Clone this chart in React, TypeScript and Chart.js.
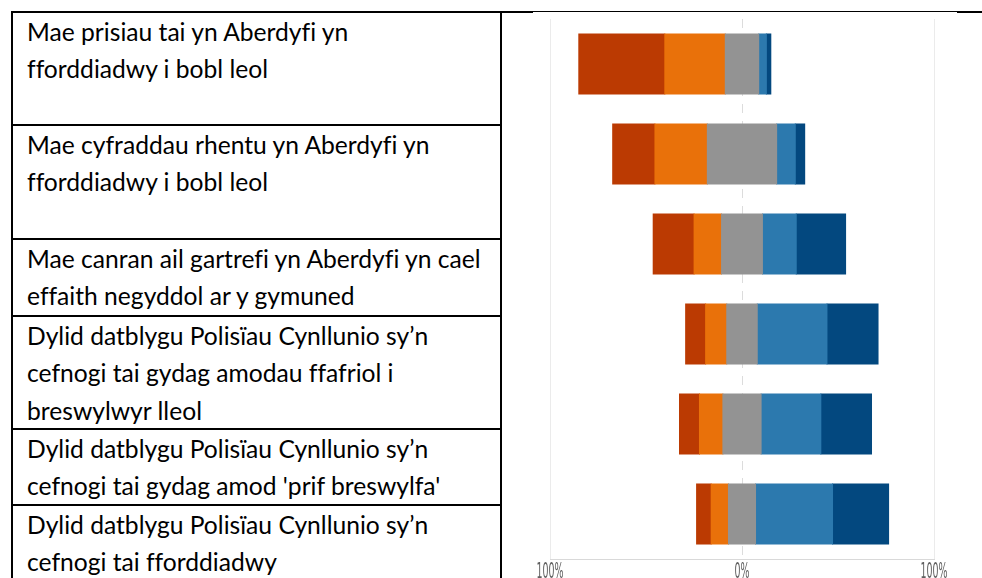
import React, { useEffect, useMemo, useRef } from "react";
import { Chart, registerables } from "chart.js";

Chart.register(...registerables);

// ---- Data ----
const statementLines: string[][] = [
  ["Mae prisiau tai yn Aberdyfi yn", "fforddiadwy i bobl leol"],
  ["Mae cyfraddau rhentu yn Aberdyfi yn", "fforddiadwy i bobl leol"],
  ["Mae canran ail gartrefi yn Aberdyfi yn cael", "effaith negyddol ar y gymuned"],
  [
    "Dylid datblygu Polisïau Cynllunio sy\u2019n",
    "cefnogi tai gydag amodau ffafriol i",
    "breswylwyr lleol",
  ],
  ["Dylid datblygu Polisïau Cynllunio sy\u2019n", "cefnogi tai gydag amod 'prif breswylfa'"],
  ["Dylid datblygu Polisïau Cynllunio sy\u2019n", "cefnogi tai fforddiadwy"],
];

const stronglyDisagree = [44.8, 22.0, 21.3, 10.4, 10.4, 7.6];
const disagree = [31.5, 27.3, 14.3, 11.0, 12.2, 9.0];
const neutral = [17.4, 36.1, 21.3, 15.9, 19.9, 14.1];
const agree = [4.0, 9.7, 17.6, 36.3, 31.1, 40.1];
const stronglyAgree = [2.3, 4.9, 25.7, 26.6, 26.4, 29.2];

const xTickValues = [-100, 0, 100];
const xTickLabels = ["100%", "0%", "100%"];

// ---- Styles ----
const C_SD = "#BB3A02";
const C_D = "#E9710A";
const C_N = "#939393";
const C_A = "#2C79AE";
const C_SA = "#03487F";

const TEXT_FONT = "Lato, 'Open Sans', sans-serif";
const TICK_FONT = "'Liberation Sans Narrow', 'DejaVu Sans Condensed', 'Liberation Sans', sans-serif";
const ROW_BORDER_Y = [11, 124, 238, 315, 428, 504];
const LINE_PITCH = 37.5;
const FIRST_BASELINE = 30;

// Draws the x tick labels in a tall, condensed style (stretched text)
const tallTicksPlugin = {
  id: "tallTicks",
  afterDraw(chart: any) {
    const scale = chart.scales.x;
    const ctx = chart.ctx;
    ctx.save();
    ctx.fillStyle = "#606060";
    ctx.font = `13px ${TICK_FONT}`;
    ctx.textAlign = "center";
    ctx.textBaseline = "alphabetic";
    const sx = 27 / ctx.measureText(xTickLabels[0]).width;
    scale.ticks.forEach((t: any, i: number) => {
      const x = scale.getPixelForValue(t.value);
      const baseline = chart.chartArea.bottom + 18.5;
      ctx.save();
      ctx.translate(x, baseline);
      ctx.scale(sx, 1.6);
      ctx.fillText(xTickLabels[i], 0, 0);
      ctx.restore();
    });
    ctx.restore();
  },
};

export default function App() {
  const canvasRef = useRef<HTMLCanvasElement | null>(null);

  const fontSize = useMemo(() => {
    const ctx = document.createElement("canvas").getContext("2d");
    if (!ctx) return 22;
    ctx.font = "100px Lato";
    const w = ctx.measureText(statementLines[2][0]).width;
    return (100 * 455) / w;
  }, []);

  useEffect(() => {
    const canvas = canvasRef.current;
    if (!canvas) return;
    const chart = new Chart(canvas, {
      type: "bar",
      data: {
        labels: statementLines,
        datasets: [
          { label: "Neutral (left)", data: neutral.map((v) => -v / 2), backgroundColor: C_N },
          { label: "Disagree", data: disagree.map((v) => -v), backgroundColor: C_D },
          { label: "Strongly disagree", data: stronglyDisagree.map((v) => -v), backgroundColor: C_SD },
          { label: "Neutral (right)", data: neutral.map((v) => v / 2), backgroundColor: C_N },
          { label: "Agree", data: agree, backgroundColor: C_A },
          { label: "Strongly agree", data: stronglyAgree, backgroundColor: C_SA },
        ],
      },
      options: {
        indexAxis: "y",
        responsive: false,
        animation: false,
        devicePixelRatio: 1,
        layout: { padding: { left: 17, right: 23, top: 6, bottom: 0 } },
        plugins: { legend: { display: false }, tooltip: { enabled: false } },
        datasets: {
          bar: { barPercentage: 0.667, categoryPercentage: 1, borderWidth: 0, inflateAmount: 0.5 },
        },
        scales: {
          x: {
            stacked: true,
            min: -100,
            max: 100,
            afterBuildTicks: (scale: any) => {
              scale.ticks = xTickValues.map((v) => ({ value: v }));
            },
            afterFit: (scale: any) => {
              scale.paddingLeft = 0;
              scale.paddingRight = 0;
              scale.height = 20;
            },
            grid: {
              drawTicks: false,
              lineWidth: 1,
              color: (ctx: any) => (ctx.tick && ctx.tick.value === 0 ? "#dcdcdc" : "#ebebeb"),
            },
            border: {
              display: true,
              color: "#d9d9d9",
              dash: (ctx: any) => (ctx.tick && ctx.tick.value === 0 ? [9, 8] : []),
            },
            ticks: {
              padding: 3,
              color: "rgba(0,0,0,0)",
              font: { family: TICK_FONT, size: 14 },
              callback: (_v: any, i: number) => xTickLabels[i],
            },
          },
          y: { stacked: true, display: false },
        },
      },
      plugins: [tallTicksPlugin],
    });
    return () => chart.destroy();
  }, []);

  const lineBox = (top: number, left: number, width: number, height: number, key: string) => (
    <div key={key} style={{ position: "absolute", left, top, width, height, background: "#000" }} />
  );

  return (
    <div
      style={{
        position: "fixed",
        left: 0,
        top: 0,
        width: 982,
        height: 578,
        overflow: "hidden",
        background: "#fff",
        fontFamily: TEXT_FONT,
      }}
    >
      {/* table borders */}
      {lineBox(11, 11, 522, 2, "top-l")}
      {lineBox(11, 533, 424, 1, "top-m")}
      {lineBox(11, 957, 40, 2, "top-r")}
      {lineBox(11, 11, 2, 600, "left")}
      {lineBox(11, 500, 2, 600, "mid")}
      {ROW_BORDER_Y.slice(1).map((y, i) => lineBox(y, 11, 491, 2, "row" + i))}

      {/* statement text */}
      {statementLines.map((lines, r) =>
        lines.map((txt, i) => {
          const baseline = ROW_BORDER_Y[r] + FIRST_BASELINE + i * LINE_PITCH;
          return (
            <div
              key={r + "-" + i}
              style={{
                position: "absolute",
                left: 27,
                top: baseline - 0.987 * fontSize,
                fontSize,
                lineHeight: `${fontSize * 1.2}px`,
                whiteSpace: "nowrap",
                color: "#000",
                fontVariantLigatures: "none",
                fontFeatureSettings: "'liga' 0",
              }}
            >
              {txt}
            </div>
          );
        })
      )}

      {/* chart */}
      <div style={{ position: "absolute", left: 533, top: 13, width: 424, height: 566 }}>
        <canvas ref={canvasRef} width={424} height={566} style={{ width: 424, height: 566, display: "block" }} />
      </div>
    </div>
  );
}
